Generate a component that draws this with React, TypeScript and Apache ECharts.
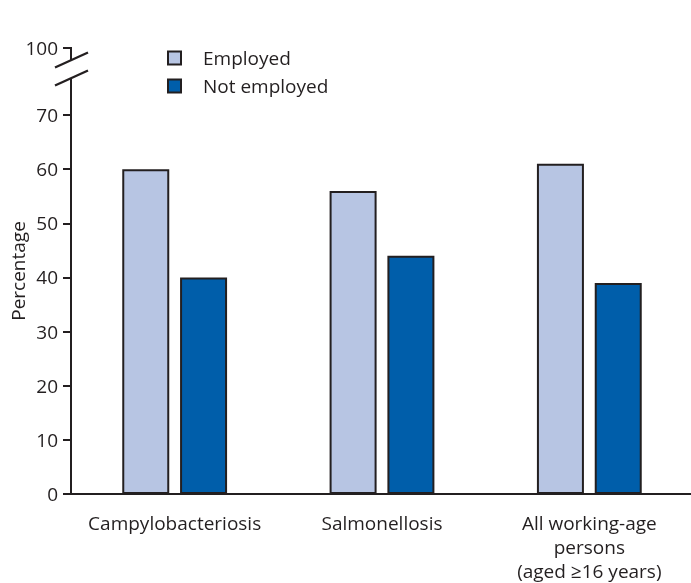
import React, { useEffect, useRef } from "react";
import * as echarts from "echarts";

const categories = ["Campylobacteriosis", "Salmonellosis", "All working-age\npersons\n(aged ≥16 years)"];
const employed = [60, 56, 61];
const notEmployed = [40, 44, 39];
const seriesNames = ["Employed", "Not employed"];
const yTickValues = [0, 10, 20, 30, 40, 50, 60, 70];
const topTickLabel = "100";
// axis position at which the "100" tick is drawn above the break
const BREAK_TOP = 82.4;

const FONT = "Open Sans";
const TEXT = "#231f20";
const FS = 19;

export default function App() {
  const ref = useRef<HTMLDivElement>(null);
  useEffect(() => {
    if (!ref.current) return;
    const chart = echarts.init(ref.current, undefined, { renderer: "svg" });
    const ticks = [...yTickValues, BREAK_TOP];
    chart.setOption({
      animation: false,
      textStyle: { fontFamily: FONT, color: TEXT },
      grid: { left: 71, right: -2, top: 48, bottom: 89, containLabel: false, outerBoundsMode: "none" },
      legend: {
        orient: "vertical",
        left: 167,
        top: 47,
        padding: 0,
        itemWidth: 13,
        itemHeight: 13,
        itemGap: 6,
        icon: "rect",
        textStyle: { fontFamily: FONT, fontSize: FS, lineHeight: 22, color: TEXT, padding: [0, 0, 0, 17] },
        data: seriesNames,
      },
      xAxis: {
        type: "category",
        data: categories,
        axisLine: { lineStyle: { color: TEXT, width: 2 } },
        axisTick: { alignWithLabel: true, length: 9, lineStyle: { color: TEXT, width: 2 } },
        axisLabel: { fontFamily: FONT, fontSize: FS, color: TEXT, margin: 17, lineHeight: 24, interval: 0 },
      },
      yAxis: {
        type: "value",
        min: 0,
        max: BREAK_TOP,
        name: "Percentage",
        nameLocation: "middle",
        nameGap: 44,
        nameMoveOverlap: false,
        nameTextStyle: { fontFamily: FONT, fontSize: FS, color: TEXT },
        splitLine: { show: false },
        axisLine: { show: false },
        axisTick: { show: true, length: 8, customValues: ticks, lineStyle: { color: TEXT, width: 2 } },
        axisLabel: {
          customValues: ticks,
          fontFamily: FONT,
          fontSize: FS,
          color: TEXT,
          margin: 13,
          formatter: (v: number) => (v > 75 ? topTickLabel : String(v)),
        },
      },
      series: [
        {
          name: seriesNames[0],
          type: "bar",
          data: employed,
          barWidth: 47,
          barGap: "23%",
          itemStyle: { color: "#b7c5e3", borderColor: TEXT, borderWidth: 2 },
        },
        {
          name: seriesNames[1],
          type: "bar",
          data: notEmployed,
          barWidth: 47,
          itemStyle: { color: "#005eaa", borderColor: TEXT, borderWidth: 2 },
        },
      ],
    });
    // y axis line with a break between the 70 tick and the top tick
    const y0 = Number(chart.convertToPixel({ yAxisIndex: 0 }, 0));
    const yTop = Number(chart.convertToPixel({ yAxisIndex: 0 }, BREAK_TOP));
    const ax = 71;
    const b1 = yTop + 12;
    const b2 = yTop + 30;
    chart.setOption({
      graphic: [
        { type: "rect", shape: { x: ax - 1, y: yTop - 1, width: 2, height: b1 - yTop + 1 }, style: { fill: TEXT }, z: 101 },
        { type: "rect", shape: { x: ax - 1, y: b2, width: 2, height: (isFinite(y0) ? y0 : 493.7) - b2 + 1 }, style: { fill: TEXT }, z: 101 },
        { type: "line", shape: { x1: ax - 16, y1: b1 + 7.5, x2: ax + 17, y2: b1 - 7.5 }, style: { stroke: TEXT, lineWidth: 2.3 }, z: 101 },
        { type: "line", shape: { x1: ax - 16, y1: b2 + 7.5, x2: ax + 17, y2: b2 - 7.5 }, style: { stroke: TEXT, lineWidth: 2.3 }, z: 101 },
      ],
    });
    return () => chart.dispose();
  }, []);
  return <div ref={ref} style={{ position: "fixed", left: 0, top: 0, width: 691, height: 583 }} />;
}
